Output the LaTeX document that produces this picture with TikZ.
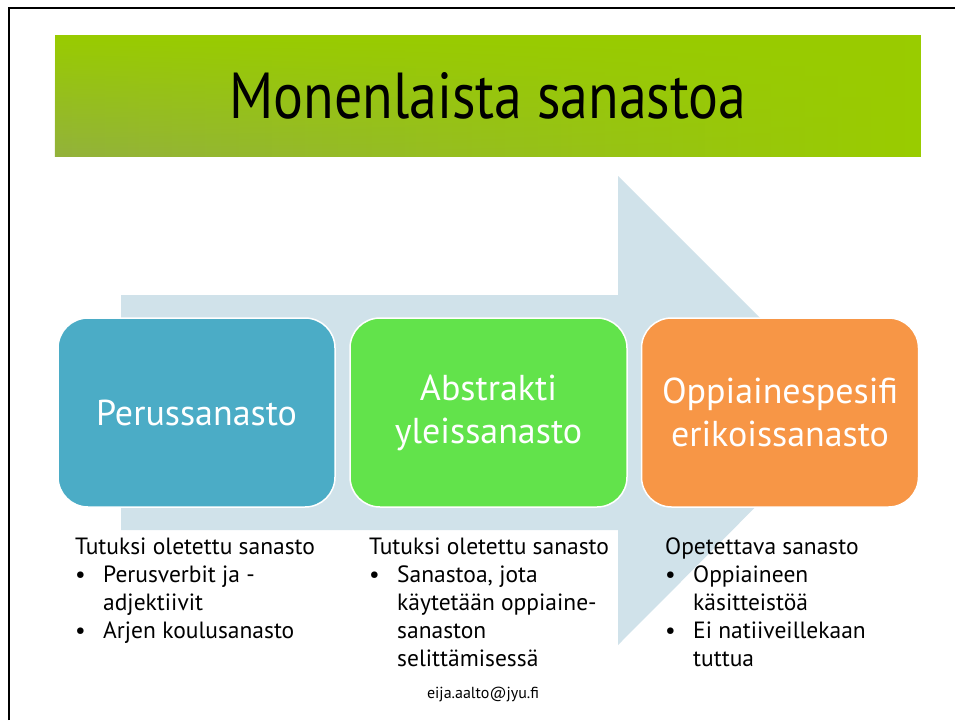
\documentclass[tikz,border=0pt]{standalone}
\usepackage{fontspec}
\setmainfont{PT Sans}
\newfontfamily\titlefont{PT Sans}[FakeStretch=0.86]
\usetikzlibrary{fadings}
\definecolor{titlegreen}{HTML}{99CC00}
\definecolor{titleolive}{HTML}{93B23C}
\definecolor{arrowblue}{HTML}{D0E2EA}
\definecolor{boxblue}{HTML}{4BACC6}
\definecolor{boxgreen}{HTML}{62E34B}
\definecolor{boxorange}{HTML}{F79646}
\newcommand\bul{\makebox[28pt][l]{\textbullet}}
\newcommand\ind{\hspace*{28pt}}
\tikzset{
  stage/.style={draw=white, line width=1.5pt, rounded corners=30pt, minimum width=277pt, minimum height=189pt, inner sep=0pt, text=white, align=center, font=\fontsize{36}{43}\selectfont},
  notes/.style={anchor=north west, inner sep=0pt, align=left, font=\fontsize{23.5}{28}\selectfont, text=black}
}
\begin{document}
\begin{tikzpicture}[x=1pt,y=-1pt]
\useasboundingbox (0,0) rectangle (955,720);
\fill[white] (0,0) rectangle (955,720);
% frame
\draw[line width=2pt] (9,720) -- (9,8) -- (955,8);
% title bar
\fill[titlegreen] (55,35) rectangle (921,157);
\shade[left color=titleolive, right color=titlegreen, path fading=north] (55,35) rectangle (921,157);
\node[font=\titlefont\fontsize{65}{70}\selectfont, anchor=base] (title) at (488,118) {Monenlaista sanastoa};
% big arrow
\fill[arrowblue] (121,295) -- (618,295) -- (618,176) -- (852,410) -- (618,645) -- (618,530) -- (121,530) -- cycle;
% stage boxes
\node[stage, fill=boxblue] (b1) at (196.5,412.5) {Perussanasto};
\node[stage, fill=boxgreen] (b2) at (488.5,412.5) {Abstrakti\\yleissanasto};
\node[stage, fill=boxorange] (b3) at (780,412.5) {Oppiainespesifi\\erikoissanasto};
% notes
\node[notes] (n1) at (75,538) {Tutuksi oletettu sanasto\\ \bul Perusverbit ja -\\ \ind adjektiivit\\ \bul Arjen koulusanasto};
\node[notes] (n2) at (369,538) {Tutuksi oletettu sanasto\\ \bul Sanastoa, jota\\ \ind käytetään oppiaine-\\ \ind sanaston\\ \ind selittämisessä};
\node[notes] (n3) at (665,538) {Opetettava sanasto\\ \bul Oppiaineen\\ \ind käsitteistöä\\ \bul Ei natiiveillekaan\\ \ind tuttua};
\node[font=\fontsize{16}{18}\selectfont] (mail) at (483,694) {eija.aalto@jyu.fi};
\end{tikzpicture}
\end{document}
